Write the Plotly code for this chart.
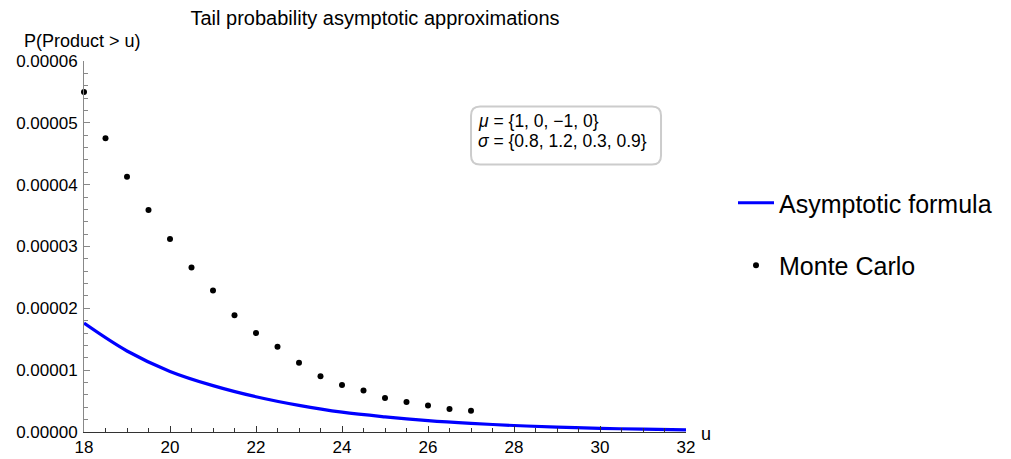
import plotly.graph_objects as go

# ---- data ----
mc_u = [18, 18.5, 19, 19.5, 20, 20.5, 21, 21.5, 22, 22.5, 23, 23.5, 24, 24.5, 25, 25.5, 26, 26.5, 27]
mc_p = [5.50e-5, 4.75e-5, 4.13e-5, 3.59e-5, 3.12e-5, 2.66e-5, 2.29e-5, 1.89e-5, 1.60e-5, 1.38e-5,
        1.12e-5, 0.90e-5, 0.76e-5, 0.67e-5, 0.55e-5, 0.485e-5, 0.43e-5, 0.37e-5, 0.345e-5]

asym_u = [18, 19, 20, 21, 22, 23, 24, 25, 26, 27, 28, 29, 30, 31, 32]
asym_p = [1.76e-5, 1.31e-5, 0.98e-5, 0.75e-5, 0.57e-5, 0.43e-5, 0.32e-5, 0.245e-5, 0.185e-5,
          0.14e-5, 0.105e-5, 0.08e-5, 0.06e-5, 0.045e-5, 0.035e-5]

x_ticks = [18, 20, 22, 24, 26, 28, 30, 32]
y_ticks = [0, 1e-5, 2e-5, 3e-5, 4e-5, 5e-5, 6e-5]
y_tick_labels = ["0.00000", "0.00001", "0.00002", "0.00003", "0.00004", "0.00005", "0.00006"]

title_text = "Tail probability asymptotic approximations"
mu_text = "<i>μ</i> = {1, 0, −1, 0}"
sigma_text = "<i>σ</i> = {0.8, 1.2, 0.3, 0.9}"

FONT = "Liberation Sans, Arial, sans-serif"

# plot area in pixels
L, R, T, B = 84, 686, 61, 432
PW, PH = R - L, B - T
YMAX = 6e-5


def py2y(py):
    return (B - py) / PH * YMAX


fig = go.Figure()
fig.add_trace(go.Scatter(
    x=asym_u, y=asym_p, mode="lines", name="Asymptotic formula",
    line=dict(color="#0000ff", width=3.2, shape="spline"),
    legendgroup="a", cliponaxis=False,
))
fig.add_trace(go.Scatter(
    x=mc_u, y=mc_p, mode="markers", name="Monte Carlo",
    marker=dict(color="black", size=6),
    legendgroup="b", cliponaxis=False,
))

# rounded box
w, h, r = 190, 58, 9
x0, x1, y0, y1 = -w / 2, w / 2, -h / 2, h / 2
path = (f"M{x0 + r},{y0} L{x1 - r},{y0} Q{x1},{y0} {x1},{y0 + r} L{x1},{y1 - r} "
        f"Q{x1},{y1} {x1 - r},{y1} L{x0 + r},{y1} Q{x0},{y1} {x0},{y1 - r} "
        f"L{x0},{y0 + r} Q{x0},{y0} {x0 + r},{y0} Z")
fig.add_shape(type="path", path=path, xsizemode="pixel", ysizemode="pixel",
              xanchor=29.21, yanchor=py2y(135.5), xref="x", yref="y",
              line=dict(color="#cccccc", width=2), fillcolor="white", layer="above")

for txt, py in [(mu_text, 121), (sigma_text, 141)]:
    fig.add_annotation(x=27.12, y=py2y(py), xref="x", yref="y", text=txt,
                       showarrow=False, xanchor="left", yanchor="middle", align="left",
                       font=dict(family=FONT, size=17.5, color="black"))

fig.add_annotation(x=(82 - L) / PW, y=(B - 41) / PH, xref="paper", yref="paper",
                   text="P(Product > u)", showarrow=False, xanchor="center", yanchor="middle",
                   font=dict(family=FONT, size=18, color="black"))
fig.add_annotation(x=(706 - L) / PW, y=(B - 434) / PH, xref="paper", yref="paper", text="u",
                   showarrow=False, xanchor="center", yanchor="middle",
                   font=dict(family=FONT, size=18, color="black"))

fig.update_layout(
    width=1011, height=459,
    margin=dict(l=L, r=1011 - R, t=T, b=459 - B, autoexpand=False),
    paper_bgcolor="white", plot_bgcolor="white",
    font=dict(family=FONT, size=17, color="black"),
    title=dict(text=title_text, x=375 / 1011, xanchor="center", y=1 - 18 / 459, yanchor="middle",
               font=dict(family=FONT, size=20, color="black")),
    showlegend=True,
    legend=dict(x=(733 - L) / PW, y=(B - 180) / PH, xanchor="left", yanchor="top",
                tracegroupgap=27, itemwidth=36,
                font=dict(family=FONT, size=25, color="black"), bgcolor="rgba(0,0,0,0)"),
    xaxis=dict(range=[18, 32], tickvals=x_ticks, ticks="inside", ticklen=6, tickcolor="#333",
               showline=True, linecolor="#333", linewidth=1, showgrid=False, zeroline=False,
               automargin=False,
               minor=dict(dtick=0.5, tick0=18, ticks="inside", ticklen=4, tickcolor="#333"),
               tickfont=dict(family=FONT, size=17)),
    yaxis=dict(range=[0, YMAX], tickvals=y_ticks, ticktext=y_tick_labels, ticks="inside",
               ticklen=6, tickcolor="#888", showline=True, linecolor="#888", linewidth=1,
               showgrid=False, zeroline=False, automargin=False, ticklabelstandoff=2,
               minor=dict(dtick=2e-6, tick0=0, ticks="inside", ticklen=4, tickcolor="#888"),
               tickfont=dict(family=FONT, size=17)),
)

fig.write_html("out.html", config={"displayModeBar": False},
               post_script="document.body.style.margin='0';")
